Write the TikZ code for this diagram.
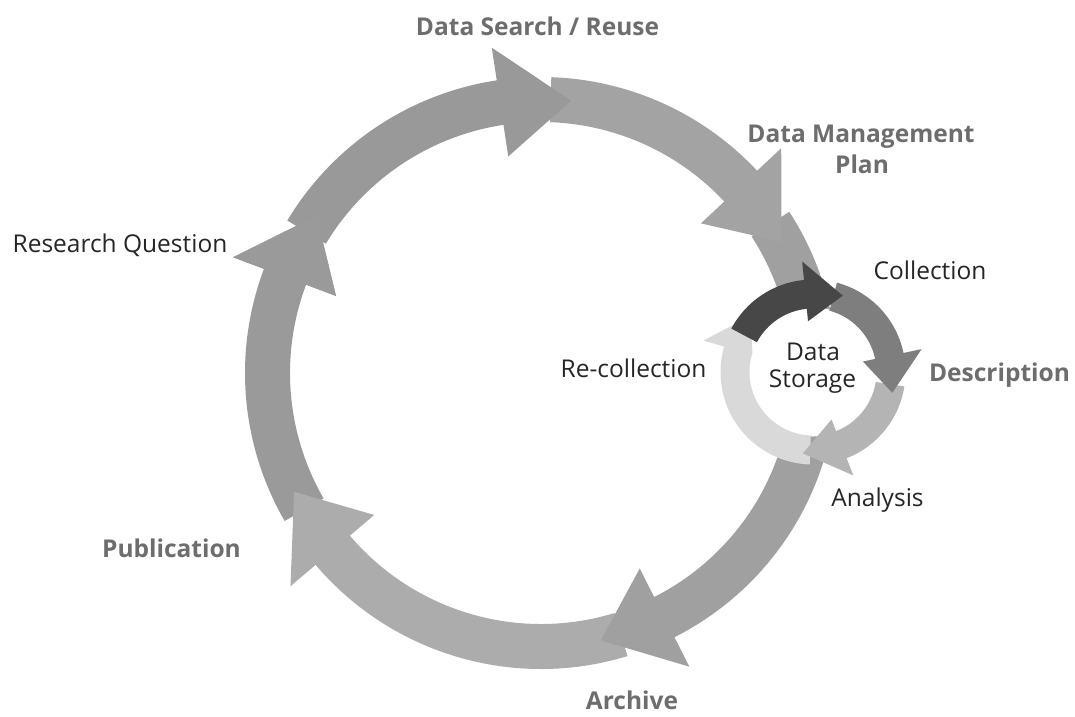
\documentclass[tikz,border=0pt]{standalone}
\usepackage{fontspec}
\setmainfont{Open Sans}
\definecolor{segA}{HTML}{999999}
\definecolor{segB}{HTML}{A3A3A3}
\definecolor{segC}{HTML}{A0A0A0}
\definecolor{segD}{HTML}{ACACAC}
\definecolor{segE}{HTML}{9A9A9A}
\definecolor{segK}{HTML}{474747}
\definecolor{segS}{HTML}{7E7E7E}
\definecolor{segN}{HTML}{B4B4B4}
\definecolor{segR}{HTML}{D9D9D9}
\definecolor{lblbold}{HTML}{6D6D6D}
\definecolor{lblreg}{HTML}{262626}
% #1 start angle, #2 base angle, #3 tip angle, #4 colour, #5 inner spike radius, #6 outer spike radius, #7 tip radius
\newcommand{\ringseg}[7]{%
  \fill[#4] (#1:\rout) arc[start angle=#1, end angle=#2, radius=\rout]
    -- (#2:#6) -- (#3:#7) -- (#2:#5) -- (#2:\rin)
    arc[start angle=#2, end angle=#1, radius=\rin] -- cycle;}
\newcommand{\ringhead}[6]{%
  \fill[#4] (#2:#6) -- (#3:#1) -- (#2:#5) -- cycle;}
\tikzset{
  boldlbl/.style={anchor=base, inner sep=0pt, text=lblbold, font=\fontsize{24.5}{30}\selectfont\bfseries},
  reglbl/.style={anchor=base, inner sep=0pt, text=lblreg, font=\fontsize{24.5}{30}\selectfont}
}
\begin{document}
\begin{tikzpicture}[x=1pt,y=1pt]
\useasboundingbox (0,0) rectangle (1075,-716);
% big cycle
\begin{scope}[shift={(541,-373)}]
  \def\rin{251}\def\rout{296}
  \ringseg{-150}{-200.6}{-215}{segE}{219}{329}{274}
  \ringseg{-73}{-139.6}{-154.3}{segD}{219}{329}{274}
  \ringseg{33}{-63.2}{-77.4}{segC}{219}{329}{274}
  \ringseg{88}{43.1}{28.6}{segB}{219}{329}{274}
  \ringseg{149}{98.6}{83.7}{segA}{219}{329}{274}
  \ringhead{274}{-200.6}{-215}{segE}{219}{329}
\end{scope}
% small cycle
\begin{scope}[shift={(813,-372)}]
  \def\rin{63.5}\def\rout{92.5}
  \fill[white] (0,0) circle[radius=64.5];
  \ringseg{-92}{-196}{-222}{segR}{63}{114}{84}
  \ringseg{-9}{-68.7}{-97.1}{segN}{51}{111}{82}
  \ringseg{75}{11.9}{-14.7}{segS}{51}{111}{82}
  \ringseg{152}{95.6}{68.7}{segK}{51}{111}{82}
\end{scope}
% labels
\node[boldlbl] (search) at (537.5,-35) {Data Search / Reuse};
\node[boldlbl] (dmp1) at (861,-142) {Data Management};
\node[boldlbl] (dmp2) at (862,-173) {Plan};
\node[reglbl] (coll) at (930,-279) {Collection};
\node[boldlbl] (desc) at (999.5,-381.5) {Description};
\node[reglbl] (anal) at (877.5,-506.5) {Analysis};
\node[reglbl] (recoll) at (633.5,-377) {Re-collection};
\node[reglbl] (ds1) at (813,-360) {Data};
\node[reglbl] (ds2) at (812.5,-387) {Storage};
\node[reglbl] (rq) at (120,-252) {Research Question};
\node[boldlbl] (pub) at (171.5,-557) {Publication};
\node[boldlbl] (arch) at (632,-709) {Archive};
\end{tikzpicture}
\end{document}
